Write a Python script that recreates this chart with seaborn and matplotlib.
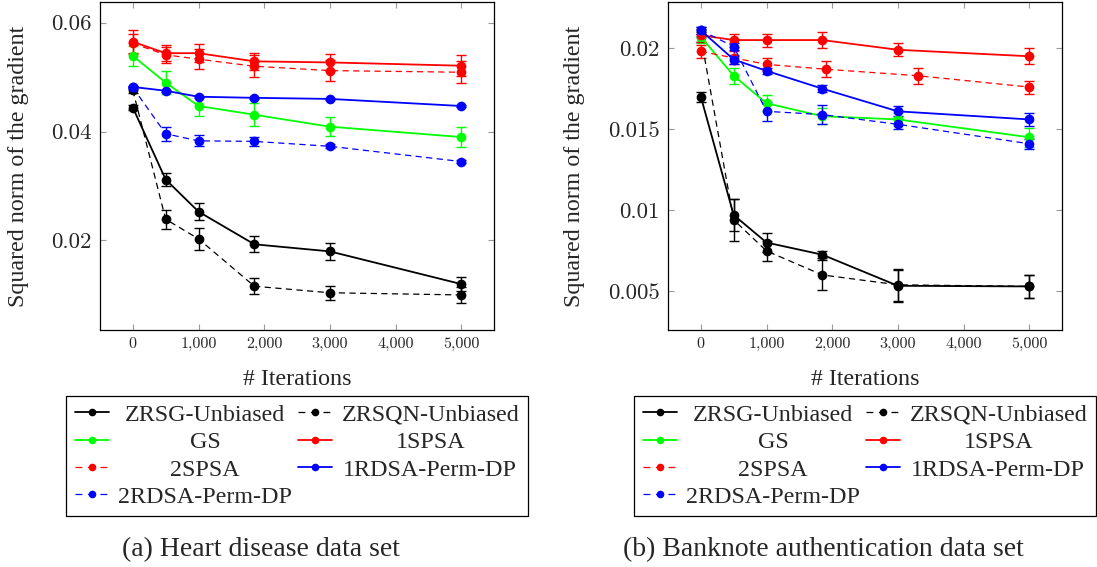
import matplotlib
matplotlib.use("Agg")
import matplotlib.pyplot as plt
import matplotlib.ticker as mticker
import seaborn as sns
from matplotlib.lines import Line2D
from matplotlib.offsetbox import VPacker

# ---- data ----
ITERS = [0, 500, 1000, 1850, 3000, 5000]
ITERS_2SPSA_BANK = [0, 500, 1000, 1900, 3300, 5000]

# (a) Heart disease
zrsg_h = [0.0444, 0.0312, 0.0253, 0.0193, 0.0180, 0.0120]
zrsg_h_err = [0.0005, 0.0012, 0.0016, 0.0015, 0.0016, 0.0013]
zrsqn_h = [0.0476, 0.0239, 0.0203, 0.0116, 0.0104, 0.0100]
zrsqn_h_err = [0.0005, 0.0017, 0.0020, 0.0015, 0.0013, 0.0014]
gs_h = [0.0539, 0.0490, 0.0447, 0.0431, 0.0409, 0.0390]
gs_h_err = [0.0019, 0.0021, 0.0018, 0.0021, 0.0017, 0.0019]
spsa1_h = [0.0565, 0.0544, 0.0544, 0.0529, 0.0527, 0.0521]
spsa1_h_err = [0.0022, 0.0015, 0.0016, 0.0015, 0.0016, 0.0019]
spsa2_h = [0.0562, 0.0541, 0.0533, 0.0520, 0.0512, 0.0509]
spsa2_h_err = [0.0018, 0.0015, 0.0018, 0.0020, 0.0019, 0.0020]
rdsa1_h = [0.0482, 0.0475, 0.0464, 0.0462, 0.0460, 0.0447]
rdsa1_h_err = [0.0002, 0.0002, 0.0002, 0.0002, 0.0002, 0.0002]
rdsa2_h = [0.0481, 0.0396, 0.0383, 0.0382, 0.0373, 0.0345]
rdsa2_h_err = [0.0003, 0.0013, 0.0010, 0.0008, 0.0004, 0.0002]

# (b) Banknote authentication
zrsg_b = [0.0170, 0.0097, 0.0080, 0.00725, 0.00533, 0.00529]
zrsg_b_err = [0.0003, 0.0010, 0.0006, 0.0002, 0.0010, 0.0007]
zrsqn_b = [0.0207, 0.0094, 0.00748, 0.0060, 0.00539, 0.00529]
zrsqn_b_err = [0.0003, 0.0013, 0.0006, 0.0009, 0.0010, 0.0007]
gs_b = [0.0207, 0.0183, 0.0166, 0.0158, 0.0156, 0.0145]
gs_b_err = [0.0004, 0.0005, 0.0005, 0.0005, 0.0004, 0.0006]
spsa1_b = [0.0208, 0.0205, 0.0205, 0.0205, 0.0199, 0.0195]
spsa1_b_err = [0.0004, 0.0004, 0.0004, 0.0005, 0.0004, 0.0005]
spsa2_b = [0.0198, 0.0194, 0.0190, 0.0187, 0.0183, 0.0176]
spsa2_b_err = [0.0004, 0.0004, 0.0004, 0.0005, 0.0005, 0.0004]
rdsa1_b = [0.0211, 0.0193, 0.0186, 0.0175, 0.0161, 0.0156]
rdsa1_b_err = [0.0002, 0.0003, 0.0002, 0.0002, 0.0003, 0.0004]
rdsa2_b = [0.0211, 0.0201, 0.0161, 0.0159, 0.0153, 0.0141]
rdsa2_b_err = [0.0002, 0.0002, 0.0006, 0.0006, 0.0003, 0.0003]

METHODS = ["ZRSG-Unbiased", "ZRSQN-Unbiased", "GS", "1SPSA", "2SPSA",
           "1RDSA-Perm-DP", "2RDSA-Perm-DP"]
COLORS = ["#000000", "#000000", "#00ff00", "#ff0000", "#ff0000",
          "#0000ff", "#0000ff"]
DASHED = [False, True, False, False, True, False, True]

HEART = [
    (ITERS, zrsg_h, zrsg_h_err), (ITERS, zrsqn_h, zrsqn_h_err),
    (ITERS, gs_h, gs_h_err), (ITERS, spsa1_h, spsa1_h_err),
    (ITERS, spsa2_h, spsa2_h_err), (ITERS, rdsa1_h, rdsa1_h_err),
    (ITERS, rdsa2_h, rdsa2_h_err),
]
BANK = [
    (ITERS, zrsg_b, zrsg_b_err), (ITERS, zrsqn_b, zrsqn_b_err),
    (ITERS, gs_b, gs_b_err), (ITERS, spsa1_b, spsa1_b_err),
    (ITERS_2SPSA_BANK, spsa2_b, spsa2_b_err), (ITERS, rdsa1_b, rdsa1_b_err),
    (ITERS, rdsa2_b, rdsa2_b_err),
]

SERIF = "Liberation Serif"
TICKFONT = "cmr10"

sns.set_theme(style="ticks")
plt.rcParams["font.family"] = [SERIF, "DejaVu Serif"]
plt.rcParams["axes.unicode_minus"] = False


def center_legend_text(fig, leg):
    # pgfplots centres the legend text inside each column
    r = fig.canvas.get_renderer()
    for col in leg._legend_handle_box.get_children():
        items = col.get_children()
        w = max(it.get_children()[1].get_bbox(r).width for it in items)
        for it in items:
            ta = it.get_children()[1]
            it._children[1] = VPacker(children=[ta], align="center",
                                      width=w, pad=0, sep=0)


def draw_panel(fig, ax, series, xlim, ylim, yticks, ylab_x):
    for (xs, ys, es), name, c, dashed in zip(series, METHODS, COLORS, DASHED):
        ax.errorbar(xs, ys, yerr=es, fmt="none", ecolor=c, elinewidth=1.0,
                    capsize=3.6, capthick=1.0, zorder=2)
        sns.lineplot(x=xs, y=ys, ax=ax, color=c, marker="o", markersize=7,
                     markeredgewidth=0, linewidth=0.9 if dashed else 1.3,
                     linestyle=(0, (5, 3.5)) if dashed else "-",
                     errorbar=None, sort=False, legend=False, zorder=3)

    ax.set_xlim(*xlim)
    ax.set_ylim(*ylim)
    ax.set_xticks([0, 1000, 2000, 3000, 4000, 5000])
    ax.set_yticks(yticks)
    ax.xaxis.set_major_formatter(mticker.FuncFormatter(lambda v, _: f"{v:,.0f}"))
    ax.yaxis.set_major_formatter(mticker.FuncFormatter(lambda v, _: f"{v:g}"))
    ax.tick_params(direction="in", top=True, right=True, length=4.5,
                   width=0.8, color="0.6", labelfontfamily=TICKFONT)
    ax.tick_params(axis="x", labelsize=11.6, pad=5)
    ax.tick_params(axis="y", labelsize=16.5, pad=6)
    for s in ax.spines.values():
        s.set_color("black")
        s.set_linewidth(0.9)

    ax.set_xlabel("# Iterations", fontsize=17.3)
    ax.xaxis.label.set_va("baseline")
    ax.xaxis.set_label_coords(0.5, -0.168)
    ax.set_ylabel("Squared norm of the gradient", fontsize=17.3)
    ax.yaxis.set_label_coords(ylab_x, 0.5)

    handles = [Line2D([], [], color=c, lw=0.9 if d else 1.3, marker="o",
                      markersize=5.5, markeredgewidth=0,
                      linestyle=(0, (5.5, 4.5)) if d else "-")
               for c, d in zip(COLORS, DASHED)]
    # row-major order as in the original (matplotlib fills columns first)
    order = [0, 2, 4, 6, 1, 3, 5]
    leg = ax.legend([handles[i] for i in order], [METHODS[i] for i in order],
                    ncol=2, loc="upper center", bbox_to_anchor=(0.5, -0.2),
                    borderaxespad=0, frameon=True, fancybox=False,
                    edgecolor="black", framealpha=1, fontsize=17.3,
                    handlelength=1.4, handletextpad=0.4, columnspacing=0.25,
                    labelspacing=0.23, borderpad=0.35)
    leg.get_frame().set_linewidth(0.9)
    center_legend_text(fig, leg)


fig = plt.figure(figsize=(10.97, 5.67), dpi=100)
ax1 = fig.add_axes([100 / 1097, 1 - 330 / 567, 394 / 1097, 328 / 567])
ax2 = fig.add_axes([668 / 1097, 1 - 330 / 567, 394 / 1097, 328 / 567])

draw_panel(fig, ax1, HEART, (-500, 5500), (0.00356, 0.0638),
           [0.02, 0.04, 0.06], -0.18)
draw_panel(fig, ax2, BANK, (-500, 5500), (0.0026, 0.02285),
           [0.005, 0.01, 0.015, 0.02], -0.211)

fig.text(260.5 / 1097, 1 - 556 / 567, "(a) Heart disease data set",
         fontsize=20, ha="center", va="baseline")
fig.text(823.5 / 1097, 1 - 556 / 567, "(b) Banknote authentication data set",
         fontsize=20, ha="center", va="baseline")

fig.savefig("out.png", dpi=100, facecolor="white")
